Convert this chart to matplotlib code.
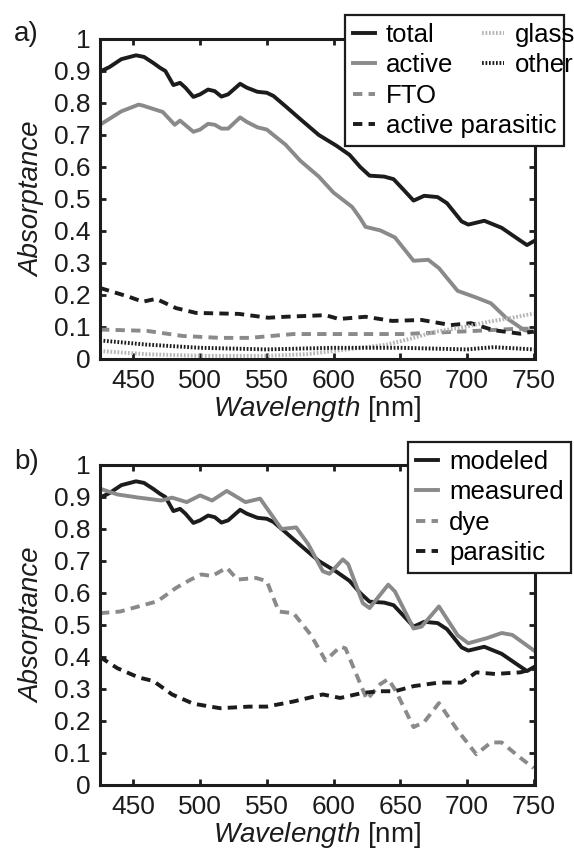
import numpy as np
import matplotlib.pyplot as plt
from matplotlib.ticker import FormatStrFormatter

plt.rcParams['font.family'] = ['Liberation Sans', 'DejaVu Sans']
plt.rcParams['mathtext.fontset'] = 'custom'
plt.rcParams['mathtext.it'] = 'Liberation Sans:italic'
plt.rcParams['mathtext.rm'] = 'Liberation Sans'

# ---- panel a data ----
wl_total = [425, 432, 441, 452, 458, 465, 470, 474, 480, 485, 489, 495, 500, 506, 511,
            516, 521, 530, 535, 543, 550, 555, 564, 575, 589, 602, 612, 620, 627, 638,
            645, 652, 660, 668, 678, 685, 696, 701, 713, 726, 740, 745, 750]
total = [0.898, 0.912, 0.937, 0.949, 0.944, 0.925, 0.910, 0.900, 0.856, 0.863, 0.848, 0.819,
         0.827, 0.842, 0.837, 0.820, 0.827, 0.860, 0.848, 0.835, 0.832, 0.822, 0.790, 0.750,
         0.700, 0.667, 0.638, 0.600, 0.573, 0.570, 0.562, 0.531, 0.495, 0.510, 0.506, 0.487,
         0.430, 0.420, 0.432, 0.410, 0.370, 0.356, 0.368]

wl_active = [425, 441, 454, 457, 469, 472, 481, 485, 495, 500, 506, 511, 516, 521, 530,
             535, 543, 550, 555, 564, 575, 589, 600, 614, 620, 624, 635, 646, 660, 671,
             679, 693, 707, 718, 729, 743, 750]
active = [0.732, 0.774, 0.795, 0.792, 0.776, 0.772, 0.732, 0.745, 0.710, 0.717, 0.735, 0.732,
          0.720, 0.720, 0.755, 0.741, 0.724, 0.717, 0.700, 0.670, 0.620, 0.570, 0.520, 0.475,
          0.440, 0.413, 0.402, 0.380, 0.307, 0.310, 0.284, 0.213, 0.192, 0.174, 0.130, 0.090,
          0.084]

wl_fto = [425, 460, 487, 515, 537, 570, 600, 625, 652, 680, 707, 735, 750]
fto = [0.092, 0.088, 0.072, 0.066, 0.066, 0.078, 0.078, 0.078, 0.078, 0.083, 0.088, 0.094, 0.095]

wl_apar = [425, 447, 457, 467, 482, 497, 529, 551, 564, 594, 604, 624, 644, 666, 688, 703,
           720, 740, 750]
apar = [0.222, 0.194, 0.179, 0.188, 0.159, 0.144, 0.141, 0.129, 0.132, 0.137, 0.125, 0.132,
        0.119, 0.122, 0.106, 0.112, 0.090, 0.079, 0.086]

wl_glass = [425, 460, 500, 550, 580, 600, 640, 660, 676, 698, 717, 735, 750]
glass = [0.025, 0.015, 0.010, 0.010, 0.015, 0.025, 0.045, 0.066, 0.085, 0.100, 0.117, 0.130, 0.142]

wl_other = [425, 460, 500, 550, 600, 650, 700, 720, 750]
other = [0.058, 0.045, 0.035, 0.030, 0.035, 0.035, 0.030, 0.037, 0.030]

# ---- panel b data ----
wl_meas = [425, 438, 454, 460, 471, 479, 490, 500, 509, 520, 534, 545, 561, 572, 581, 592,
           597, 607, 611, 622, 627, 641, 646, 660, 666, 679, 693, 701, 715, 726, 734, 750]
measured = [0.926, 0.908, 0.898, 0.895, 0.889, 0.898, 0.884, 0.905, 0.889, 0.919, 0.884,
            0.895, 0.800, 0.805, 0.753, 0.668, 0.660, 0.705, 0.690, 0.568, 0.553, 0.626,
            0.605, 0.489, 0.495, 0.558, 0.468, 0.443, 0.459, 0.475, 0.469, 0.421]

wl_dye = [425, 440, 460, 468, 482, 493, 501, 509, 520, 528, 542, 550, 559, 570, 583, 594,
          605, 609, 625, 635, 641, 646, 660, 668, 679, 693, 707, 718, 726, 740, 750]
dye = [0.537, 0.542, 0.565, 0.574, 0.616, 0.642, 0.658, 0.653, 0.679, 0.642, 0.647, 0.637,
       0.542, 0.537, 0.469, 0.389, 0.432, 0.427, 0.267, 0.315, 0.331, 0.299, 0.181, 0.197,
       0.256, 0.171, 0.096, 0.133, 0.133, 0.085, 0.053]

wl_par = [425, 438, 454, 465, 479, 495, 515, 537, 550, 570, 592, 605, 622, 635, 646, 660,
          679, 696, 707, 721, 740, 750]
parasitic = [0.400, 0.365, 0.336, 0.325, 0.283, 0.254, 0.240, 0.245, 0.245, 0.261, 0.283,
             0.272, 0.288, 0.293, 0.293, 0.309, 0.320, 0.320, 0.352, 0.347, 0.352, 0.363]

BLACK = '#1c1c1c'
GRAY = '#8a8a8a'
LIGHT = '#b4b4b4'
LW = 2.8
DASH = (2.4, 1.6)
DOT = (0.45, 0.45)

fig = plt.figure(figsize=(5.74, 8.52), dpi=100)
ax1 = fig.add_axes([100 / 574, 1 - 359 / 852, 435 / 574, 320 / 852])
ax2 = fig.add_axes([100 / 574, 1 - 785 / 852, 435 / 574, 320 / 852])


def style(ax):
    ax.set_xlim(425, 751)
    ax.set_ylim(0, 1)
    ax.set_xticks(np.arange(450, 751, 50))
    ax.set_yticks(np.arange(0, 1.01, 0.1))
    ax.yaxis.set_major_formatter(FormatStrFormatter('%g'))
    ax.tick_params(direction='in', top=True, right=True, length=4, width=2,
                   labelsize=19, pad=7, colors=BLACK)
    for s in ax.spines.values():
        s.set_linewidth(2.2)
        s.set_color(BLACK)
    ax.set_xlabel(r'$\mathit{Wavelength}$ [nm]', fontsize=20, labelpad=1, color=BLACK)
    ax.set_ylabel('Absorptance', fontsize=20, style='italic', labelpad=6, color=BLACK)


# panel a
h_total, = ax1.plot(wl_total, total, color=BLACK, lw=LW)
h_active, = ax1.plot(wl_active, active, color=GRAY, lw=LW)
h_fto, = ax1.plot(wl_fto, fto, color=GRAY, lw=LW, dashes=DASH)
h_apar, = ax1.plot(wl_apar, apar, color=BLACK, lw=LW, dashes=DASH)
h_glass, = ax1.plot(wl_glass, glass, color=LIGHT, lw=LW, dashes=DOT)
h_other, = ax1.plot(wl_other, other, color=BLACK, lw=LW, dashes=DOT)
style(ax1)

leg_kw = dict(loc='upper left', fontsize=18.5, handlelength=0.85, handletextpad=0.45,
              borderpad=0.3, labelspacing=0.25, borderaxespad=0)
leg = fig.legend([h_total, h_active, h_fto, h_apar],
                 ['total', 'active', 'FTO', 'active parasitic'],
                 bbox_to_anchor=(345 / 574, 1 - 15 / 852), fancybox=False,
                 framealpha=1, edgecolor=BLACK, **leg_kw)
leg.get_frame().set_linewidth(1.6)
leg2 = fig.legend([h_glass, h_other], ['glass', 'other'],
                  bbox_to_anchor=(474 / 574, 1 - 15 / 852), frameon=False, **leg_kw)

# panel b
h_mod, = ax2.plot(wl_total, total, color=BLACK, lw=LW)
h_meas, = ax2.plot(wl_meas, measured, color=GRAY, lw=LW)
h_dye, = ax2.plot(wl_dye, dye, color=GRAY, lw=LW, dashes=DASH)
h_par, = ax2.plot(wl_par, parasitic, color=BLACK, lw=LW, dashes=DASH)
style(ax2)

leg3 = fig.legend([h_mod, h_meas, h_dye, h_par],
                  ['modeled', 'measured', 'dye', 'parasitic'],
                  bbox_to_anchor=(408 / 574, 1 - 442 / 852), fancybox=False,
                  framealpha=1, edgecolor=BLACK, **leg_kw)
leg3.get_frame().set_linewidth(1.6)

fig.text(14 / 574, 1 - 41 / 852, 'a)', fontsize=20, va='baseline', color=BLACK)
fig.text(14 / 574, 1 - 469 / 852, 'b)', fontsize=20, va='baseline', color=BLACK)

fig.savefig('out.png', dpi=100)
